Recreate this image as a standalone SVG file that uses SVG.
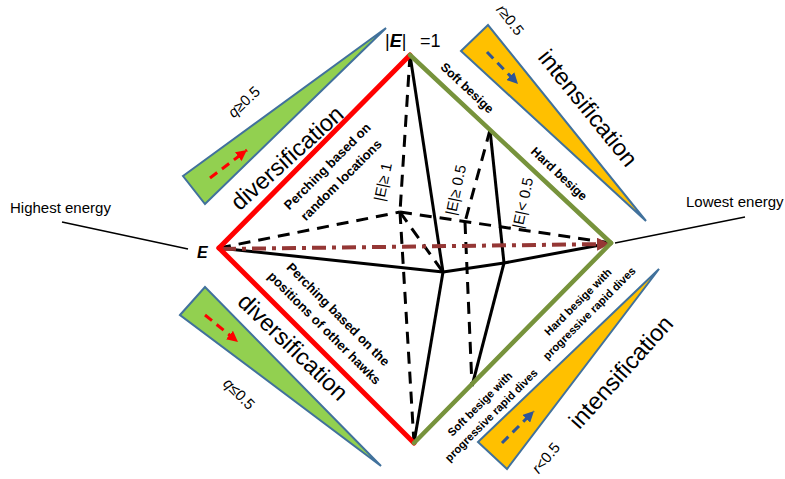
<svg xmlns="http://www.w3.org/2000/svg" width="785" height="479" viewBox="0 0 785 479">
<defs>
<style>
 text { font-family: "Liberation Sans", Arial, sans-serif; fill:#000; }
 .big { font-size:23.5px; }
 .lab { font-size:13px; font-weight:bold; }
 .besige { font-size:12.5px; font-weight:bold; }
 .sm { font-size:11.2px; font-weight:bold; }
 .cond { font-size:15px; }
 .abs { font-size:15px; }
 .tri-g { fill:#92D050; stroke:#41719C; stroke-width:2; }
 .tri-o { fill:#FFC000; stroke:#41719C; stroke-width:2; }
 .red { stroke:#FF0000; stroke-width:5; fill:none; stroke-linecap:round; }
 .grn { stroke:#77933C; stroke-width:4.5; fill:none; stroke-linecap:round; }
 .sol { stroke:#000; stroke-width:3; fill:none; }
 .dsh { stroke:#000; stroke-width:3; fill:none; stroke-dasharray:12 8; }
 .thin { stroke:#000; stroke-width:1.5; fill:none; }
 .rarr { stroke:#FF0000; stroke-width:3; stroke-dasharray:9 6; fill:none; }
 .barr { stroke:#2F5597; stroke-width:3; stroke-dasharray:9 6; fill:none; }
 .brown { stroke:#953735; stroke-width:4; stroke-dasharray:14 6 4 6; fill:none; }
</style>
<marker id="mRed" viewBox="0 0 10 10" refX="10" refY="5" markerWidth="11" markerHeight="11" markerUnits="userSpaceOnUse" orient="auto"><path d="M0,0 L10,5 L0,10 z" fill="#FF0000"/></marker>
<marker id="mBlue" viewBox="0 0 10 10" refX="10" refY="5" markerWidth="11" markerHeight="11" markerUnits="userSpaceOnUse" orient="auto"><path d="M0,0 L10,5 L0,10 z" fill="#2F5597"/></marker>
<marker id="mBrown" viewBox="0 0 10 10" refX="10" refY="5" markerWidth="13" markerHeight="13" markerUnits="userSpaceOnUse" orient="auto"><path d="M0,0 L10,5 L0,10 z" fill="#953735"/></marker>
</defs>
<rect width="785" height="479" fill="#fff"/>

<!-- side triangles -->
<g id="tri-top-left">
 <polygon class="tri-g" points="183,176 386,28 205,204"/>
 <line class="rarr" x1="210" y1="178" x2="247" y2="150" marker-end="url(#mRed)"/>
 <text class="cond" transform="translate(244,102) rotate(-43)" text-anchor="middle" y="5"><tspan font-style="italic">q</tspan>≥0.5</text>
 <text class="big" transform="translate(287,158) rotate(-42)" text-anchor="middle" y="8">diversification</text>
</g>
<g id="tri-bottom-left">
 <polygon class="tri-g" points="180,315 205,287 381,466"/>
 <line class="rarr" x1="205" y1="315" x2="238" y2="342" marker-end="url(#mRed)"/>
 <text class="cond" transform="translate(239,394) rotate(45)" text-anchor="middle" y="5"><tspan font-style="italic">q</tspan>≤0.5</text>
 <text class="big" transform="translate(293,347) rotate(44)" text-anchor="middle" y="8">diversification</text>
</g>
<g id="tri-top-right">
 <polygon class="tri-o" points="461,51 488,25 646,221"/>
 <line class="barr" x1="487" y1="52" x2="518" y2="84" marker-end="url(#mBlue)"/>
 <text class="cond" transform="translate(510,20) rotate(52)" text-anchor="middle" y="5"><tspan font-style="italic">r</tspan>≥0.5</text>
 <text class="big" transform="translate(588,108) rotate(51)" text-anchor="middle" y="8">intensification</text>
</g>
<g id="tri-bottom-right">
 <polygon class="tri-o" points="478,442 507,469 659,269"/>
 <line class="barr" x1="502" y1="443" x2="534" y2="411" marker-end="url(#mBlue)"/>
 <text class="cond" transform="translate(546,458) rotate(-50)" text-anchor="middle" y="5" font-size="14"><tspan font-style="italic">r</tspan>&lt;0.5</text>
 <text class="big" transform="translate(621,372) rotate(-48)" text-anchor="middle" y="8">intensification</text>
</g>

<!-- connectors -->
<g id="connectors">
 <line class="dsh" x1="219" y1="248" x2="400" y2="212"/>
 <line class="dsh" x1="410" y1="55" x2="400" y2="212"/>
 <line class="dsh" x1="400" y1="212" x2="414" y2="443"/>
 <line class="dsh" x1="400" y1="212" x2="443" y2="272"/>
 <line class="dsh" x1="400" y1="212" x2="611" y2="243"/>
 <line class="dsh" x1="490" y1="130" x2="465" y2="222"/>
 <line class="dsh" x1="465" y1="222" x2="472" y2="386"/>
 <line class="sol" x1="219" y1="248" x2="443" y2="272"/>
 <line class="sol" x1="410" y1="55" x2="443" y2="272"/>
 <line class="sol" x1="443" y1="272" x2="414" y2="443"/>
 <line class="sol" x1="443" y1="272" x2="504" y2="263"/>
 <line class="sol" x1="504" y1="263" x2="611" y2="243"/>
 <line class="sol" x1="490" y1="130" x2="504" y2="263"/>
 <line class="sol" x1="504" y1="263" x2="472" y2="386"/>
 <line class="brown" x1="222" y1="249" x2="610" y2="244" marker-end="url(#mBrown)"/>
 <line class="thin" x1="62" y1="222" x2="188" y2="249"/>
 <line class="thin" x1="615" y1="243" x2="745" y2="217"/>
</g>

<!-- diamond edges -->
<g id="edge-red-top"><line class="red" x1="219" y1="248" x2="410" y2="55"/></g>
<g id="edge-red-bottom"><line class="red" x1="219" y1="248" x2="414" y2="443"/></g>
<g id="edge-green-top"><line class="grn" x1="410" y1="55" x2="611" y2="243"/></g>
<g id="edge-green-bottom"><line class="grn" x1="414" y1="443" x2="611" y2="243"/></g>

<!-- vertices / labels -->
<g id="node-E">
 <text x="197" y="258" font-size="16" font-weight="bold" font-style="italic">E</text>
 <text x="10" y="213" font-size="15">Highest energy</text>
</g>
<g id="node-E1">
 <text x="385" y="47" font-size="18">|<tspan font-weight="bold" font-style="italic">E</tspan>|<tspan x="420">=1</tspan></text>
</g>
<g id="node-lowest">
 <text x="686" y="207" font-size="15">Lowest energy</text>
</g>

<g id="label-perch-random">
 <text class="lab" transform="translate(334,173) rotate(-45)" text-anchor="middle"><tspan x="0" y="-5">Perching based on</tspan><tspan x="0" y="14.5">random locations</tspan></text>
</g>
<g id="label-perch-others">
 <text class="lab" transform="translate(331.5,321) rotate(45)" text-anchor="middle"><tspan x="0" y="-5">Perching based on the</tspan><tspan x="0" y="14.5">positions of other hawks</tspan></text>
</g>
<g id="label-soft">
 <text class="besige" transform="translate(467,88) rotate(43)" text-anchor="middle" y="4">Soft besige</text>
</g>
<g id="label-hard">
 <text class="besige" transform="translate(559,174) rotate(43)" text-anchor="middle" y="4">Hard besige</text>
</g>
<g id="label-hard-dives">
 <text class="sm" transform="translate(583.5,307.5) rotate(-45)" text-anchor="middle"><tspan x="0" y="-4">Hard besige with</tspan><tspan x="0" y="12">progressive rapid dives</tspan></text>
</g>
<g id="label-soft-dives">
 <text class="sm" transform="translate(485.5,409.5) rotate(-45)" text-anchor="middle"><tspan x="0" y="-4">Soft besige with</tspan><tspan x="0" y="12">progressive rapid dives</tspan></text>
</g>
<g id="label-E1">
 <text class="abs" transform="translate(383,182) rotate(-78)" text-anchor="middle" y="5">|E|≥ 1</text>
</g>
<g id="label-E05">
 <text class="abs" transform="translate(456,190) rotate(-78)" text-anchor="middle" y="5">|E|≥ 0.5</text>
</g>
<g id="label-Elt05">
 <text class="abs" transform="translate(523,203) rotate(-78)" text-anchor="middle" y="5">|E|&lt; 0.5</text>
</g>
</svg>
